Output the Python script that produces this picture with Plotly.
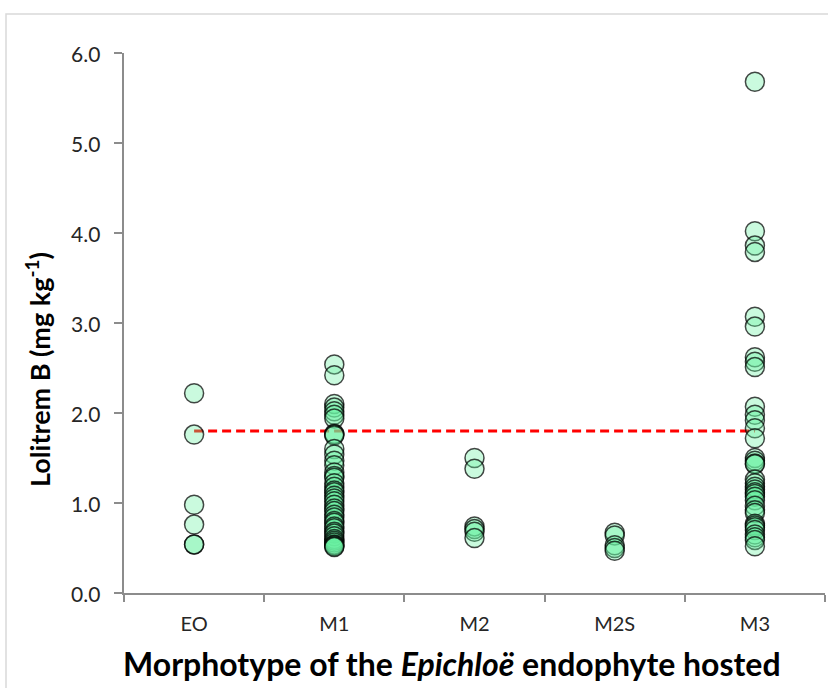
import plotly.graph_objects as go

categories = ["EO", "M1", "M2", "M2S", "M3"]

eo_vals = [2.22, 1.76, 0.98, 0.76, 0.54, 0.54]
m1_vals = [2.54, 2.42, 2.10, 2.06, 2.02, 1.98, 1.94, 1.77, 1.76, 1.75, 1.60, 1.54,
           1.47, 1.42, 1.34, 1.30, 1.28, 1.22, 1.18, 1.14, 1.12, 1.08, 1.05, 1.02,
           0.98, 0.94, 0.91, 0.87, 0.84, 0.80, 0.78, 0.74, 0.72, 0.68, 0.66, 0.63,
           0.60, 0.58, 0.56, 0.54, 0.53, 0.52, 0.51]
m2_vals = [1.50, 1.38, 0.74, 0.71, 0.68, 0.61]
m2s_vals = [0.67, 0.64, 0.53, 0.50, 0.47]
m3_vals = [5.68, 4.02, 3.86, 3.79, 3.07, 2.96, 2.62, 2.57, 2.51, 2.07, 1.98, 1.92,
           1.83, 1.72, 1.50, 1.47, 1.44, 1.43, 1.26, 1.22, 1.18, 1.15, 1.12, 1.10,
           1.07, 1.03, 0.97, 0.92, 0.89, 0.77, 0.75, 0.73, 0.70, 0.65, 0.62, 0.59,
           0.52]

threshold = 1.8
y_ticks = [0, 1, 2, 3, 4, 5, 6]
y_ticklabels = ["0.0", "1.0", "2.0", "3.0", "4.0", "5.0", "6.0"]

xs, ys = [], []
for cat, vals in zip(categories, [eo_vals, m1_vals, m2_vals, m2s_vals, m3_vals]):
    xs += [cat] * len(vals)
    ys += vals

FONT = "Lato"
L, R, T, B = 124, 3, 53, 95
PW, PH = 828 - L - R, 688 - T - B

fig = go.Figure()
fig.add_trace(go.Scatter(
    x=[categories[0], categories[-1]], y=[threshold, threshold],
    mode="lines", line=dict(color="#ff0000", width=3, dash="9px,5px"),
    hoverinfo="skip", showlegend=False))
fig.add_trace(go.Scatter(
    x=xs, y=ys, mode="markers", showlegend=False,
    marker=dict(size=19, color="rgba(102,240,160,0.35)",
                line=dict(color="rgba(0,0,0,0.72)", width=1.5))))

annotations = [
    dict(text="<b>Morphotype of the <i>Epichloë</i> endophyte hosted</b>",
         xref="paper", yref="paper", x=(452 - L) / PW, y=(688 - B - 663) / PH,
         xanchor="center", yanchor="middle", showarrow=False,
         font=dict(family=FONT, size=32, color="black")),
    dict(text="<b>Lolitrem B (mg kg<sup>-1</sup>)</b>",
         xref="paper", yref="paper", x=(38 - L) / PW, y=(688 - B - 370) / PH,
         xanchor="center", yanchor="middle", textangle=-90, showarrow=False,
         font=dict(family=FONT, size=27, color="black")),
]
for v, lab in zip(y_ticks, y_ticklabels):
    annotations.append(dict(
        text=lab, xref="paper", yref="y", x=(102 - L) / PW, y=v,
        xanchor="right", yanchor="middle", showarrow=False,
        font=dict(family=FONT, size=21, color="#262626")))

fig.update_layout(
    width=828, height=688,
    margin=dict(l=L, r=R, t=T, b=B),
    plot_bgcolor="white", paper_bgcolor="white",
    font=dict(family=FONT, color="#404040", size=20),
    xaxis=dict(type="category", categoryorder="array", categoryarray=categories,
               range=[-0.5, 4.5],
               showline=True, linecolor="#8c8c8c", linewidth=1.5,
               ticks="outside", tickson="boundaries", ticklen=7,
               tickcolor="#8c8c8c", tickwidth=1.5, showgrid=False,
               ticklabelstandoff=12,
               tickfont=dict(family=FONT, size=20, color="#262626")),
    yaxis=dict(range=[0, 6], tickvals=y_ticks, showticklabels=False,
               showline=True, linecolor="#8c8c8c", linewidth=1.5,
               ticks="outside", ticklen=8, tickcolor="#8c8c8c", tickwidth=1.5,
               showgrid=False, zeroline=False),
    shapes=[dict(type="rect", xref="paper", yref="paper",
                 x0=(6 - L) / PW, x1=1.05, y0=-0.3, y1=(688 - B - 14) / PH,
                 line=dict(color="#d9d9d9", width=1.5), fillcolor="rgba(0,0,0,0)",
                 layer="below")],
    annotations=annotations,
)

fig.write_html("out.html")
